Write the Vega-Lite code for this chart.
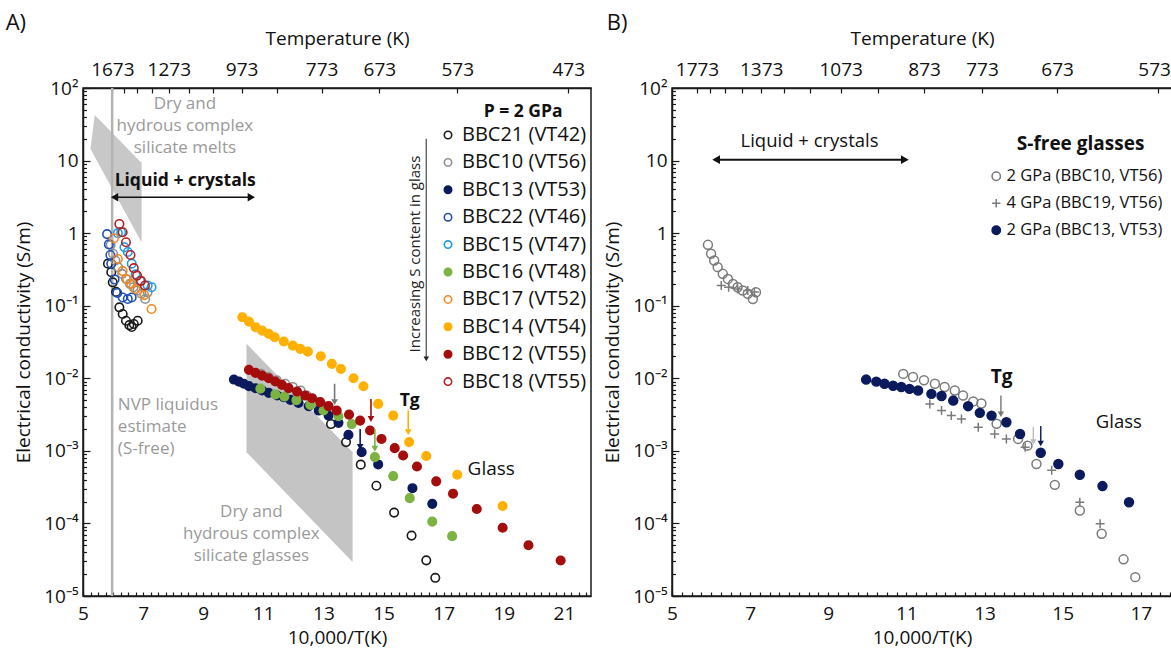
{
  "$schema": "https://vega.github.io/schema/vega-lite/v6.json",
  "background": "white",
  "padding": {"left": 4, "top": 11, "right": 0, "bottom": 0},
  "config": {
    "font": "Open Sans",
    "view": {"stroke": "#1a1a1a", "strokeWidth": 1.5},
    "axis": {
      "grid": false, "labelFont": "Open Sans", "titleFont": "Open Sans",
      "labelFontSize": 19, "titleFontSize": 19, "titleFontWeight": "normal",
      "labelColor": "#111", "titleColor": "#111", "domainColor": "#1a1a1a", "domainWidth": 1.5,
      "tickColor": "#1a1a1a", "tickWidth": 1.2, "labelOverlap": false, "labelFlush": false
    },
    "legend": {"labelFont": "Open Sans", "labelLimit": 320},
    "title": {"font": "Open Sans", "fontWeight": "normal", "fontSize": 22, "anchor": "start", "frame": "bounds", "color": "#111"}
  },
  "datasets": {
    "glassBand": [{"x": 10.44, "lo": 0.00096, "hi": 0.0298}, {"x": 13.97, "lo": 0.0000293, "hi": 0.00096}],
    "meltsBand": [{"x": 5.25, "lo": 14.5, "hi": 14.5}, {"x": 5.39, "lo": 11.3, "hi": 42.5}, {"x": 6.91, "lo": 0.8, "hi": 9.66}, {"x": 6.95, "lo": 0.75, "hi": 9.66}],
    "liquidus": [{"x": 5.97}],
    "grayNotesA": [
      {"x": 8.39, "y": 77.6, "t": "Dry and\nhydrous complex\nsilicate melts"},
      {"x": 10.6, "y": 0.000186, "t": "Dry and\nhydrous complex\nsilicate glasses"}
    ],
    "nvpNote": [{"x": 6.16, "y": 0.00555, "t": "NVP liquidus\nestimate\n(S-free)"}],
    "boldNotesA": [
      {"x": 8.4, "y": 5.3, "t": "Liquid + crystals"},
      {"x": 15.87, "y": 0.0049, "t": "Tg"},
      {"x": 19.64, "y": 46.8, "t": "P = 2 GPa"}
    ],
    "plainNotesA": [{"x": 18.58, "y": 0.00056, "t": "Glass"}],
    "sNote": [{"x": 16.03, "y": 0.516, "t": "Increasing S content in glass"}],
    "sArrow": [{"x": 16.42, "top": 20, "tip": 0.0185}],
    "lcArrowA": [{"x1": 6.05, "x2": 10.6, "y": 3.12}],
    "tgA": [
      {"sample": "BBC10 (VT56)", "x": 13.37, "top": 0.0084, "tip": 0.0047},
      {"sample": "BBC12 (VT55)", "x": 14.58, "top": 0.0052, "tip": 0.00275},
      {"sample": "BBC13 (VT53)", "x": 14.22, "top": 0.002, "tip": 0.00113},
      {"sample": "BBC16 (VT48)", "x": 14.71, "top": 0.002, "tip": 0.00107},
      {"sample": "BBC14 (VT54)", "x": 15.82, "top": 0.0036, "tip": 0.00181}
    ],
    "ptsA": [
      {"sample": "BBC21 (VT42)", "x": 5.83, "y": 0.38}, {"sample": "BBC21 (VT42)", "x": 5.94, "y": 0.29}, {"sample": "BBC21 (VT42)", "x": 5.99, "y": 0.21}, {"sample": "BBC21 (VT42)", "x": 6.1, "y": 0.155}, {"sample": "BBC21 (VT42)", "x": 6.21, "y": 0.095}, {"sample": "BBC21 (VT42)", "x": 6.32, "y": 0.077}, {"sample": "BBC21 (VT42)", "x": 6.43, "y": 0.062}, {"sample": "BBC21 (VT42)", "x": 6.54, "y": 0.054}, {"sample": "BBC21 (VT42)", "x": 6.62, "y": 0.051}, {"sample": "BBC21 (VT42)", "x": 6.69, "y": 0.056}, {"sample": "BBC21 (VT42)", "x": 6.82, "y": 0.062},
      {"sample": "BBC21 (VT42)", "x": 13.25, "y": 0.00234}, {"sample": "BBC21 (VT42)", "x": 13.75, "y": 0.00132}, {"sample": "BBC21 (VT42)", "x": 14.24, "y": 0.000646}, {"sample": "BBC21 (VT42)", "x": 14.76, "y": 0.000331}, {"sample": "BBC21 (VT42)", "x": 15.35, "y": 0.000141}, {"sample": "BBC21 (VT42)", "x": 15.93, "y": 0.000068}, {"sample": "BBC21 (VT42)", "x": 16.42, "y": 0.000031}, {"sample": "BBC21 (VT42)", "x": 16.72, "y": 0.0000178},
      {"sample": "BBC10 (VT56)", "x": 5.92, "y": 0.69}, {"sample": "BBC10 (VT56)", "x": 6.0, "y": 0.52}, {"sample": "BBC10 (VT56)", "x": 6.08, "y": 0.42}, {"sample": "BBC10 (VT56)", "x": 6.17, "y": 0.34}, {"sample": "BBC10 (VT56)", "x": 6.3, "y": 0.275}, {"sample": "BBC10 (VT56)", "x": 6.43, "y": 0.234}, {"sample": "BBC10 (VT56)", "x": 6.56, "y": 0.2}, {"sample": "BBC10 (VT56)", "x": 6.68, "y": 0.18}, {"sample": "BBC10 (VT56)", "x": 6.81, "y": 0.162}, {"sample": "BBC10 (VT56)", "x": 6.94, "y": 0.146}, {"sample": "BBC10 (VT56)", "x": 7.07, "y": 0.124}, {"sample": "BBC10 (VT56)", "x": 7.15, "y": 0.153},
      {"sample": "BBC10 (VT56)", "x": 10.92, "y": 0.0115}, {"sample": "BBC10 (VT56)", "x": 11.17, "y": 0.0104}, {"sample": "BBC10 (VT56)", "x": 11.45, "y": 0.0094}, {"sample": "BBC10 (VT56)", "x": 11.73, "y": 0.0084}, {"sample": "BBC10 (VT56)", "x": 11.98, "y": 0.0076}, {"sample": "BBC10 (VT56)", "x": 12.24, "y": 0.0068}, {"sample": "BBC10 (VT56)", "x": 12.45, "y": 0.0058}, {"sample": "BBC10 (VT56)", "x": 12.71, "y": 0.0048}, {"sample": "BBC10 (VT56)", "x": 12.92, "y": 0.0045},
      {"sample": "BBC22 (VT46)", "x": 5.8, "y": 0.97}, {"sample": "BBC22 (VT46)", "x": 5.86, "y": 0.7}, {"sample": "BBC22 (VT46)", "x": 5.91, "y": 0.5}, {"sample": "BBC22 (VT46)", "x": 5.94, "y": 0.38}, {"sample": "BBC22 (VT46)", "x": 6.05, "y": 0.23}, {"sample": "BBC22 (VT46)", "x": 6.14, "y": 0.15}, {"sample": "BBC22 (VT46)", "x": 6.32, "y": 0.13}, {"sample": "BBC22 (VT46)", "x": 6.49, "y": 0.124}, {"sample": "BBC22 (VT46)", "x": 6.62, "y": 0.13},
      {"sample": "BBC15 (VT47)", "x": 6.16, "y": 1.0}, {"sample": "BBC15 (VT47)", "x": 6.27, "y": 1.03}, {"sample": "BBC15 (VT47)", "x": 6.38, "y": 0.64}, {"sample": "BBC15 (VT47)", "x": 6.49, "y": 0.55}, {"sample": "BBC15 (VT47)", "x": 6.62, "y": 0.38}, {"sample": "BBC15 (VT47)", "x": 6.75, "y": 0.27}, {"sample": "BBC15 (VT47)", "x": 6.9, "y": 0.22}, {"sample": "BBC15 (VT47)", "x": 7.15, "y": 0.19}, {"sample": "BBC15 (VT47)", "x": 7.28, "y": 0.18},
      {"sample": "BBC17 (VT52)", "x": 6.03, "y": 0.85}, {"sample": "BBC17 (VT52)", "x": 6.16, "y": 0.44}, {"sample": "BBC17 (VT52)", "x": 6.32, "y": 0.3}, {"sample": "BBC17 (VT52)", "x": 6.47, "y": 0.23}, {"sample": "BBC17 (VT52)", "x": 6.6, "y": 0.2}, {"sample": "BBC17 (VT52)", "x": 6.75, "y": 0.17}, {"sample": "BBC17 (VT52)", "x": 7.04, "y": 0.14}, {"sample": "BBC17 (VT52)", "x": 7.28, "y": 0.09},
      {"sample": "BBC18 (VT55)", "x": 6.21, "y": 1.34}, {"sample": "BBC18 (VT55)", "x": 6.32, "y": 1.03}, {"sample": "BBC18 (VT55)", "x": 6.43, "y": 0.75}, {"sample": "BBC18 (VT55)", "x": 6.58, "y": 0.5}, {"sample": "BBC18 (VT55)", "x": 6.69, "y": 0.33}, {"sample": "BBC18 (VT55)", "x": 6.8, "y": 0.26}, {"sample": "BBC18 (VT55)", "x": 6.93, "y": 0.22}, {"sample": "BBC18 (VT55)", "x": 7.06, "y": 0.19},
      {"sample": "BBC13 (VT53)", "x": 10.02, "y": 0.0096}, {"sample": "BBC13 (VT53)", "x": 10.19, "y": 0.009}, {"sample": "BBC13 (VT53)", "x": 10.35, "y": 0.0084}, {"sample": "BBC13 (VT53)", "x": 10.52, "y": 0.0078}, {"sample": "BBC13 (VT53)", "x": 10.74, "y": 0.0073}, {"sample": "BBC13 (VT53)", "x": 10.96, "y": 0.0068}, {"sample": "BBC13 (VT53)", "x": 11.18, "y": 0.0063}, {"sample": "BBC13 (VT53)", "x": 11.46, "y": 0.0058}, {"sample": "BBC13 (VT53)", "x": 11.68, "y": 0.0055}, {"sample": "BBC13 (VT53)", "x": 11.9, "y": 0.00504}, {"sample": "BBC13 (VT53)", "x": 12.17, "y": 0.00458}, {"sample": "BBC13 (VT53)", "x": 12.51, "y": 0.00413}, {"sample": "BBC13 (VT53)", "x": 12.84, "y": 0.00359}, {"sample": "BBC13 (VT53)", "x": 13.17, "y": 0.00306}, {"sample": "BBC13 (VT53)", "x": 13.5, "y": 0.00243}, {"sample": "BBC13 (VT53)", "x": 13.83, "y": 0.00166}, {"sample": "BBC13 (VT53)", "x": 14.27, "y": 0.00096}, {"sample": "BBC13 (VT53)", "x": 14.82, "y": 0.00065}, {"sample": "BBC13 (VT53)", "x": 15.96, "y": 0.000306}, {"sample": "BBC13 (VT53)", "x": 16.62, "y": 0.000186},
      {"sample": "BBC16 (VT48)", "x": 10.9, "y": 0.0072}, {"sample": "BBC16 (VT48)", "x": 11.4, "y": 0.006}, {"sample": "BBC16 (VT48)", "x": 11.7, "y": 0.0056}, {"sample": "BBC16 (VT48)", "x": 12.1, "y": 0.005}, {"sample": "BBC16 (VT48)", "x": 12.56, "y": 0.0043}, {"sample": "BBC16 (VT48)", "x": 13.0, "y": 0.0036}, {"sample": "BBC16 (VT48)", "x": 13.5, "y": 0.003}, {"sample": "BBC16 (VT48)", "x": 13.94, "y": 0.00234}, {"sample": "BBC16 (VT48)", "x": 14.71, "y": 0.00082}, {"sample": "BBC16 (VT48)", "x": 15.32, "y": 0.000448}, {"sample": "BBC16 (VT48)", "x": 15.87, "y": 0.000223}, {"sample": "BBC16 (VT48)", "x": 16.62, "y": 0.000106}, {"sample": "BBC16 (VT48)", "x": 17.28, "y": 0.0000668},
      {"sample": "BBC14 (VT54)", "x": 10.3, "y": 0.0695}, {"sample": "BBC14 (VT54)", "x": 10.52, "y": 0.0604}, {"sample": "BBC14 (VT54)", "x": 10.74, "y": 0.0506}, {"sample": "BBC14 (VT54)", "x": 10.96, "y": 0.0454}, {"sample": "BBC14 (VT54)", "x": 11.18, "y": 0.0409}, {"sample": "BBC14 (VT54)", "x": 11.38, "y": 0.0368}, {"sample": "BBC14 (VT54)", "x": 11.68, "y": 0.0321}, {"sample": "BBC14 (VT54)", "x": 11.98, "y": 0.0282}, {"sample": "BBC14 (VT54)", "x": 12.23, "y": 0.0254}, {"sample": "BBC14 (VT54)", "x": 12.48, "y": 0.0233}, {"sample": "BBC14 (VT54)", "x": 12.91, "y": 0.0201}, {"sample": "BBC14 (VT54)", "x": 13.28, "y": 0.0158}, {"sample": "BBC14 (VT54)", "x": 13.58, "y": 0.01346}, {"sample": "BBC14 (VT54)", "x": 14.0, "y": 0.01}, {"sample": "BBC14 (VT54)", "x": 14.33, "y": 0.00778}, {"sample": "BBC14 (VT54)", "x": 14.82, "y": 0.00444}, {"sample": "BBC14 (VT54)", "x": 15.32, "y": 0.00306}, {"sample": "BBC14 (VT54)", "x": 15.85, "y": 0.00132}, {"sample": "BBC14 (VT54)", "x": 16.42, "y": 0.000851}, {"sample": "BBC14 (VT54)", "x": 17.45, "y": 0.000468}, {"sample": "BBC14 (VT54)", "x": 18.96, "y": 0.000174},
      {"sample": "BBC12 (VT55)", "x": 10.52, "y": 0.01306}, {"sample": "BBC12 (VT55)", "x": 10.74, "y": 0.01186}, {"sample": "BBC12 (VT55)", "x": 10.96, "y": 0.01089}, {"sample": "BBC12 (VT55)", "x": 11.18, "y": 0.01}, {"sample": "BBC12 (VT55)", "x": 11.4, "y": 0.00902}, {"sample": "BBC12 (VT55)", "x": 11.62, "y": 0.00811}, {"sample": "BBC12 (VT55)", "x": 11.84, "y": 0.00731}, {"sample": "BBC12 (VT55)", "x": 12.12, "y": 0.00656}, {"sample": "BBC12 (VT55)", "x": 12.39, "y": 0.00578}, {"sample": "BBC12 (VT55)", "x": 12.62, "y": 0.00532}, {"sample": "BBC12 (VT55)", "x": 12.89, "y": 0.00469}, {"sample": "BBC12 (VT55)", "x": 13.17, "y": 0.00413}, {"sample": "BBC12 (VT55)", "x": 13.44, "y": 0.00359}, {"sample": "BBC12 (VT55)", "x": 13.85, "y": 0.00316}, {"sample": "BBC12 (VT55)", "x": 14.22, "y": 0.00261}, {"sample": "BBC12 (VT55)", "x": 14.55, "y": 0.00191}, {"sample": "BBC12 (VT55)", "x": 14.93, "y": 0.00146}, {"sample": "BBC12 (VT55)", "x": 15.37, "y": 0.00109}, {"sample": "BBC12 (VT55)", "x": 15.65, "y": 0.000863}, {"sample": "BBC12 (VT55)", "x": 16.11, "y": 0.000608}, {"sample": "BBC12 (VT55)", "x": 16.75, "y": 0.00038}, {"sample": "BBC12 (VT55)", "x": 17.31, "y": 0.000257}, {"sample": "BBC12 (VT55)", "x": 18.1, "y": 0.000158}, {"sample": "BBC12 (VT55)", "x": 18.96, "y": 0.0000871}, {"sample": "BBC12 (VT55)", "x": 19.82, "y": 0.0000501}, {"sample": "BBC12 (VT55)", "x": 20.89, "y": 0.0000309}
    ],
    "lcArrowB": [{"x1": 6.13, "x2": 10.96, "y": 10.3}],
    "boldNotesB": [
      {"x": 13.44, "y": 0.01035, "t": "Tg"},
      {"x": 15.46, "y": 16.9, "t": "S-free glasses"}
    ],
    "plainNotesB": [
      {"x": 8.52, "y": 18.8, "t": "Liquid + crystals"},
      {"x": 16.44, "y": 0.0025, "t": "Glass"}
    ],
    "tgB": [
      {"sample": "2 GPa (BBC10, VT56)", "x": 13.42, "top": 0.0058, "tip": 0.0032},
      {"sample": "4 GPa (BBC19, VT56)", "x": 14.25, "top": 0.00214, "tip": 0.00133},
      {"sample": "2 GPa (BBC13, VT53)", "x": 14.44, "top": 0.0022, "tip": 0.00126}
    ],
    "ptsB": [
      {"sample": "2 GPa (BBC10, VT56)", "x": 5.92, "y": 0.69}, {"sample": "2 GPa (BBC10, VT56)", "x": 6.0, "y": 0.52}, {"sample": "2 GPa (BBC10, VT56)", "x": 6.08, "y": 0.42}, {"sample": "2 GPa (BBC10, VT56)", "x": 6.17, "y": 0.34}, {"sample": "2 GPa (BBC10, VT56)", "x": 6.3, "y": 0.275}, {"sample": "2 GPa (BBC10, VT56)", "x": 6.43, "y": 0.234}, {"sample": "2 GPa (BBC10, VT56)", "x": 6.56, "y": 0.2}, {"sample": "2 GPa (BBC10, VT56)", "x": 6.68, "y": 0.18}, {"sample": "2 GPa (BBC10, VT56)", "x": 6.81, "y": 0.162}, {"sample": "2 GPa (BBC10, VT56)", "x": 6.94, "y": 0.146}, {"sample": "2 GPa (BBC10, VT56)", "x": 7.07, "y": 0.124}, {"sample": "2 GPa (BBC10, VT56)", "x": 7.15, "y": 0.153},
      {"sample": "2 GPa (BBC10, VT56)", "x": 10.92, "y": 0.0115}, {"sample": "2 GPa (BBC10, VT56)", "x": 11.17, "y": 0.0104}, {"sample": "2 GPa (BBC10, VT56)", "x": 11.45, "y": 0.0094}, {"sample": "2 GPa (BBC10, VT56)", "x": 11.73, "y": 0.0084}, {"sample": "2 GPa (BBC10, VT56)", "x": 11.98, "y": 0.0076}, {"sample": "2 GPa (BBC10, VT56)", "x": 12.24, "y": 0.0068}, {"sample": "2 GPa (BBC10, VT56)", "x": 12.45, "y": 0.0058}, {"sample": "2 GPa (BBC10, VT56)", "x": 12.71, "y": 0.0048}, {"sample": "2 GPa (BBC10, VT56)", "x": 12.92, "y": 0.0045}, {"sample": "2 GPa (BBC10, VT56)", "x": 13.31, "y": 0.00236}, {"sample": "2 GPa (BBC10, VT56)", "x": 13.86, "y": 0.00146}, {"sample": "2 GPa (BBC10, VT56)", "x": 14.1, "y": 0.00118}, {"sample": "2 GPa (BBC10, VT56)", "x": 14.33, "y": 0.00066}, {"sample": "2 GPa (BBC10, VT56)", "x": 14.8, "y": 0.00034}, {"sample": "2 GPa (BBC10, VT56)", "x": 15.44, "y": 0.000151}, {"sample": "2 GPa (BBC10, VT56)", "x": 16.0, "y": 0.000072}, {"sample": "2 GPa (BBC10, VT56)", "x": 16.56, "y": 0.000032}, {"sample": "2 GPa (BBC10, VT56)", "x": 16.86, "y": 0.0000182},
      {"sample": "4 GPa (BBC19, VT56)", "x": 6.26, "y": 0.19}, {"sample": "4 GPa (BBC19, VT56)", "x": 6.45, "y": 0.18}, {"sample": "4 GPa (BBC19, VT56)", "x": 6.68, "y": 0.17}, {"sample": "4 GPa (BBC19, VT56)", "x": 6.94, "y": 0.162}, {"sample": "4 GPa (BBC19, VT56)", "x": 7.11, "y": 0.155},
      {"sample": "4 GPa (BBC19, VT56)", "x": 11.6, "y": 0.00443}, {"sample": "4 GPa (BBC19, VT56)", "x": 11.9, "y": 0.00359}, {"sample": "4 GPa (BBC19, VT56)", "x": 12.15, "y": 0.00306}, {"sample": "4 GPa (BBC19, VT56)", "x": 12.41, "y": 0.00275}, {"sample": "4 GPa (BBC19, VT56)", "x": 12.84, "y": 0.00212}, {"sample": "4 GPa (BBC19, VT56)", "x": 13.26, "y": 0.00171}, {"sample": "4 GPa (BBC19, VT56)", "x": 13.56, "y": 0.00146}, {"sample": "4 GPa (BBC19, VT56)", "x": 14.04, "y": 0.00112}, {"sample": "4 GPa (BBC19, VT56)", "x": 14.72, "y": 0.00054}, {"sample": "4 GPa (BBC19, VT56)", "x": 15.44, "y": 0.000196}, {"sample": "4 GPa (BBC19, VT56)", "x": 15.96, "y": 0.000099},
      {"sample": "2 GPa (BBC13, VT53)", "x": 9.97, "y": 0.0096}, {"sample": "2 GPa (BBC13, VT53)", "x": 10.23, "y": 0.009}, {"sample": "2 GPa (BBC13, VT53)", "x": 10.44, "y": 0.0084}, {"sample": "2 GPa (BBC13, VT53)", "x": 10.66, "y": 0.0079}, {"sample": "2 GPa (BBC13, VT53)", "x": 10.87, "y": 0.0076}, {"sample": "2 GPa (BBC13, VT53)", "x": 11.08, "y": 0.00715}, {"sample": "2 GPa (BBC13, VT53)", "x": 11.3, "y": 0.0068}, {"sample": "2 GPa (BBC13, VT53)", "x": 11.64, "y": 0.0061}, {"sample": "2 GPa (BBC13, VT53)", "x": 11.9, "y": 0.0057}, {"sample": "2 GPa (BBC13, VT53)", "x": 12.2, "y": 0.00493}, {"sample": "2 GPa (BBC13, VT53)", "x": 12.58, "y": 0.00413}, {"sample": "2 GPa (BBC13, VT53)", "x": 12.88, "y": 0.00334}, {"sample": "2 GPa (BBC13, VT53)", "x": 13.18, "y": 0.00306}, {"sample": "2 GPa (BBC13, VT53)", "x": 13.56, "y": 0.00248}, {"sample": "2 GPa (BBC13, VT53)", "x": 13.91, "y": 0.00171}, {"sample": "2 GPa (BBC13, VT53)", "x": 14.44, "y": 0.00094}, {"sample": "2 GPa (BBC13, VT53)", "x": 14.89, "y": 0.00066}, {"sample": "2 GPa (BBC13, VT53)", "x": 15.44, "y": 0.000468}, {"sample": "2 GPa (BBC13, VT53)", "x": 16.02, "y": 0.000327}, {"sample": "2 GPa (BBC13, VT53)", "x": 16.7, "y": 0.000196}
    ]
  },
  "spacing": 81,
  "bounds": "flush",
  "resolve": {
    "scale": {"fill": "independent", "stroke": "independent", "shape": "independent", "color": "independent"},
    "legend": {"fill": "independent", "stroke": "independent", "shape": "independent", "color": "independent"}
  },
  "hconcat": [
    {
      "width": 508,
      "height": 508,
      "title": {"text": "A)", "dx": -9, "offset": -6},
      "resolve": {"axis": {"x": "independent", "y": "independent"}},
      "layer": [
        {
          "data": {"name": "glassBand"},
          "mark": {"type": "area", "color": "#c4c4c4", "opacity": 1},
          "encoding": {
            "x": {"field": "x", "type": "quantitative", "scale": {"domain": [5, 21.9], "nice": false, "zero": false},
              "axis": {"orient": "bottom", "title": "10,000/T(K)", "titlePadding": 5, "tickSize": -4, "labelPadding": 12,
                "values": [5,5.25,5.5,5.75,6,6.25,6.5,6.75,7,7.25,7.5,7.75,8,8.25,8.5,8.75,9,9.25,9.5,9.75,10,10.25,10.5,10.75,11,11.25,11.5,11.75,12,12.25,12.5,12.75,13,13.25,13.5,13.75,14,14.25,14.5,14.75,15,15.25,15.5,15.75,16,16.25,16.5,16.75,17,17.25,17.5,17.75,18,18.25,18.5,18.75,19,19.25,19.5,19.75,20,20.25,20.5,20.75,21,21.25,21.5,21.75],
                "labelExpr": "datum.value % 2 == 1 ? format(datum.value, 'd') : ''"}},
            "y": {"field": "lo", "type": "quantitative", "scale": {"type": "log", "domain": [0.00001, 100], "nice": false},
              "axis": {"orient": "left", "title": "Electrical conductivity (S/m)", "titlePadding": 10, "tickSize": -7, "labelPadding": 12,
                "values": [0.00001, 0.0001, 0.001, 0.01, 0.1, 1, 10, 100],
                "labelExpr": "datum.value >= 99 ? '10²' : datum.value >= 9 ? '10' : datum.value >= 0.9 ? '1' : datum.value >= 0.09 ? '10⁻¹' : datum.value >= 0.009 ? '10⁻²' : datum.value >= 0.0009 ? '10⁻³' : datum.value >= 0.00009 ? '10⁻⁴' : '10⁻⁵'"}},
            "y2": {"field": "hi"}
          }
        },
        {
          "data": {"name": "meltsBand"},
          "mark": {"type": "area", "color": "#c8c8c8", "opacity": 1},
          "encoding": {
            "x": {"field": "x", "type": "quantitative", "scale": {"domain": [5, 21.9], "nice": false, "zero": false},
              "axis": {"orient": "top", "title": "Temperature (K)", "titlePadding": 12, "tickSize": -5, "labelPadding": 14,
                "values": [5.9773, 6.3573, 6.7889, 7.2833, 7.8555, 8.5251, 9.3197, 10.2775, 11.4548, 12.9366, 14.8588, 17.452, 21.1416],
                "labelExpr": "indexof([1673, 1273, 973, 773, 673, 573, 473], round(10000 / datum.value)) >= 0 ? format(round(10000 / datum.value), 'd') : ''"}},
            "y": {"field": "lo", "type": "quantitative", "scale": {"type": "log", "domain": [0.00001, 100], "nice": false},
              "axis": {"orient": "left", "title": null, "labels": false, "domain": false, "tickSize": -3.5,
                "values": [0.00002,0.00003,0.00004,0.00005,0.00006,0.00007,0.00008,0.00009,0.0002,0.0003,0.0004,0.0005,0.0006,0.0007,0.0008,0.0009,0.002,0.003,0.004,0.005,0.006,0.007,0.008,0.009,0.02,0.03,0.04,0.05,0.06,0.07,0.08,0.09,0.2,0.3,0.4,0.5,0.6,0.7,0.8,0.9,2,3,4,5,6,7,8,9,20,30,40,50,60,70,80,90]}},
            "y2": {"field": "hi"}
          }
        },
        {
          "data": {"name": "liquidus"},
          "mark": {"type": "rule", "color": "#b3b3b3", "strokeWidth": 2.5},
          "encoding": {"x": {"field": "x", "type": "quantitative", "axis": null}}
        },
        {
          "data": {"name": "grayNotesA"},
          "mark": {"type": "text", "align": "center", "baseline": "top", "fontSize": 17, "color": "#9a9a9a", "lineBreak": "\n", "lineHeight": 22},
          "encoding": {
            "x": {"field": "x", "type": "quantitative", "axis": null},
            "y": {"field": "y", "type": "quantitative", "axis": null},
            "text": {"field": "t"}
          }
        },
        {
          "data": {"name": "nvpNote"},
          "mark": {"type": "text", "align": "left", "baseline": "top", "fontSize": 17, "color": "#9a9a9a", "lineBreak": "\n", "lineHeight": 22},
          "encoding": {
            "x": {"field": "x", "type": "quantitative", "axis": null},
            "y": {"field": "y", "type": "quantitative", "axis": null},
            "text": {"field": "t"}
          }
        },
        {
          "data": {"name": "ptsA"},
          "mark": {"type": "point", "size": 72, "strokeWidth": 1.6, "opacity": 1},
          "encoding": {
            "x": {"field": "x", "type": "quantitative", "axis": null},
            "y": {"field": "y", "type": "quantitative", "axis": null},
            "fill": {"field": "sample", "type": "nominal",
              "scale": {"domain": ["BBC21 (VT42)", "BBC10 (VT56)", "BBC13 (VT53)", "BBC22 (VT46)", "BBC15 (VT47)", "BBC16 (VT48)", "BBC17 (VT52)", "BBC14 (VT54)", "BBC12 (VT55)", "BBC18 (VT55)"],
                "range": ["transparent", "transparent", "#0b1a5c", "transparent", "transparent", "#7cb342", "transparent", "#ffb000", "#a50d0d", "transparent"]},
              "legend": {"title": null, "orient": "none", "legendX": 355, "legendY": 37, "symbolSize": 55, "symbolStrokeWidth": 1.6, "labelFontSize": 20, "labelColor": "#111", "rowPadding": 7.4, "labelOffset": 4, "padding": 0}},
            "stroke": {"field": "sample", "type": "nominal",
              "scale": {"domain": ["BBC21 (VT42)", "BBC10 (VT56)", "BBC13 (VT53)", "BBC22 (VT46)", "BBC15 (VT47)", "BBC16 (VT48)", "BBC17 (VT52)", "BBC14 (VT54)", "BBC12 (VT55)", "BBC18 (VT55)"],
                "range": ["#1a1a1a", "#8f8f8f", "#0b1a5c", "#1f50b5", "#1e9be8", "#7cb342", "#f28a22", "#ffb000", "#a50d0d", "#b52222"]},
              "legend": {"title": null, "orient": "none", "legendX": 355, "legendY": 37, "symbolSize": 55, "symbolStrokeWidth": 1.6, "labelFontSize": 20, "labelColor": "#111", "rowPadding": 7.4, "labelOffset": 4, "padding": 0}}
          }
        },
        {
          "data": {"name": "lcArrowA"},
          "mark": {"type": "rule", "color": "#111", "strokeWidth": 1.5},
          "encoding": {
            "x": {"field": "x1", "type": "quantitative", "axis": null},
            "x2": {"field": "x2"},
            "y": {"field": "y", "type": "quantitative", "axis": null}
          }
        },
        {
          "data": {"name": "lcArrowA"},
          "mark": {"type": "point", "shape": "triangle-left", "filled": true, "color": "#111", "size": 70, "opacity": 1},
          "encoding": {
            "x": {"field": "x1", "type": "quantitative", "axis": null},
            "y": {"field": "y", "type": "quantitative", "axis": null}
          }
        },
        {
          "data": {"name": "lcArrowA"},
          "mark": {"type": "point", "shape": "triangle-right", "filled": true, "color": "#111", "size": 70, "opacity": 1},
          "encoding": {
            "x": {"field": "x2", "type": "quantitative", "axis": null},
            "y": {"field": "y", "type": "quantitative", "axis": null}
          }
        },
        {
          "data": {"name": "sArrow"},
          "mark": {"type": "rule", "color": "#555", "strokeWidth": 1.3},
          "encoding": {
            "x": {"field": "x", "type": "quantitative", "axis": null},
            "y": {"field": "top", "type": "quantitative", "axis": null},
            "y2": {"field": "tip"}
          }
        },
        {
          "data": {"name": "sArrow"},
          "mark": {"type": "point", "shape": "triangle-down", "filled": true, "color": "#222", "size": 30, "opacity": 1},
          "encoding": {
            "x": {"field": "x", "type": "quantitative", "axis": null},
            "y": {"field": "tip", "type": "quantitative", "axis": null}
          }
        },
        {
          "data": {"name": "tgA"},
          "mark": {"type": "rule", "strokeWidth": 1.6},
          "encoding": {
            "x": {"field": "x", "type": "quantitative", "axis": null},
            "y": {"field": "top", "type": "quantitative", "axis": null},
            "y2": {"field": "tip"},
            "color": {"field": "sample", "type": "nominal", "legend": null,
              "scale": {"domain": ["BBC10 (VT56)", "BBC12 (VT55)", "BBC13 (VT53)", "BBC16 (VT48)", "BBC14 (VT54)"], "range": ["#777777", "#a50d0d", "#0b1a5c", "#7cb342", "#ffb000"]}}
          }
        },
        {
          "data": {"name": "tgA"},
          "mark": {"type": "point", "shape": "triangle-down", "filled": true, "size": 45, "opacity": 1},
          "encoding": {
            "x": {"field": "x", "type": "quantitative", "axis": null},
            "y": {"field": "tip", "type": "quantitative", "axis": null},
            "color": {"field": "sample", "type": "nominal", "legend": null,
              "scale": {"domain": ["BBC10 (VT56)", "BBC12 (VT55)", "BBC13 (VT53)", "BBC16 (VT48)", "BBC14 (VT54)"], "range": ["#777777", "#a50d0d", "#0b1a5c", "#7cb342", "#ffb000"]}}
          }
        },
        {
          "data": {"name": "boldNotesA"},
          "mark": {"type": "text", "align": "center", "baseline": "middle", "fontSize": 17.5, "fontWeight": "bold", "color": "#111"},
          "encoding": {
            "x": {"field": "x", "type": "quantitative", "axis": null},
            "y": {"field": "y", "type": "quantitative", "axis": null},
            "text": {"field": "t"}
          }
        },
        {
          "data": {"name": "plainNotesA"},
          "mark": {"type": "text", "align": "center", "baseline": "middle", "fontSize": 19, "color": "#111"},
          "encoding": {
            "x": {"field": "x", "type": "quantitative", "axis": null},
            "y": {"field": "y", "type": "quantitative", "axis": null},
            "text": {"field": "t"}
          }
        },
        {
          "data": {"name": "sNote"},
          "mark": {"type": "text", "align": "center", "baseline": "middle", "angle": 270, "fontSize": 15, "color": "#222"},
          "encoding": {
            "x": {"field": "x", "type": "quantitative", "axis": null},
            "y": {"field": "y", "type": "quantitative", "axis": null},
            "text": {"field": "t"}
          }
        }
      ]
    },
    {
      "width": 500,
      "height": 508,
      "title": {"text": "B)", "dx": 3, "offset": -6},
      "resolve": {"axis": {"x": "independent", "y": "independent"}},
      "layer": [
        {
          "data": {"name": "ptsB"},
          "mark": {"type": "point", "size": 80, "strokeWidth": 1.5, "opacity": 1},
          "encoding": {
            "x": {"field": "x", "type": "quantitative", "scale": {"domain": [5, 17.8], "nice": false, "zero": false},
              "axis": {"orient": "bottom", "title": "10,000/T(K)", "titlePadding": 5, "tickSize": -4, "labelPadding": 12,
                "values": [5,5.25,5.5,5.75,6,6.25,6.5,6.75,7,7.25,7.5,7.75,8,8.25,8.5,8.75,9,9.25,9.5,9.75,10,10.25,10.5,10.75,11,11.25,11.5,11.75,12,12.25,12.5,12.75,13,13.25,13.5,13.75,14,14.25,14.5,14.75,15,15.25,15.5,15.75,16,16.25,16.5,16.75,17,17.25,17.5,17.75],
                "labelExpr": "datum.value % 2 == 1 ? format(datum.value, 'd') : ''"}},
            "y": {"field": "y", "type": "quantitative", "scale": {"type": "log", "domain": [0.00001, 100], "nice": false},
              "axis": {"orient": "left", "title": "Electrical conductivity (S/m)", "titlePadding": 10, "tickSize": -7, "labelPadding": 12,
                "values": [0.00001, 0.0001, 0.001, 0.01, 0.1, 1, 10, 100],
                "labelExpr": "datum.value >= 99 ? '10²' : datum.value >= 9 ? '10' : datum.value >= 0.9 ? '1' : datum.value >= 0.09 ? '10⁻¹' : datum.value >= 0.009 ? '10⁻²' : datum.value >= 0.0009 ? '10⁻³' : datum.value >= 0.00009 ? '10⁻⁴' : '10⁻⁵'"}},
            "fill": {"field": "sample", "type": "nominal",
              "scale": {"domain": ["2 GPa (BBC10, VT56)", "4 GPa (BBC19, VT56)", "2 GPa (BBC13, VT53)"], "range": ["transparent", "transparent", "#0b1a5c"]},
              "legend": {"title": null, "orient": "none", "legendX": 316, "legendY": 80, "symbolSize": 70, "symbolStrokeWidth": 1.5, "labelFontSize": 16.5, "labelColor": "#111", "rowPadding": 10, "labelOffset": 2, "padding": 0}},
            "stroke": {"field": "sample", "type": "nominal",
              "scale": {"domain": ["2 GPa (BBC10, VT56)", "4 GPa (BBC19, VT56)", "2 GPa (BBC13, VT53)"], "range": ["#7a7a7a", "#7a7a7a", "#0b1a5c"]},
              "legend": {"title": null, "orient": "none", "legendX": 316, "legendY": 80, "symbolSize": 70, "symbolStrokeWidth": 1.5, "labelFontSize": 16.5, "labelColor": "#111", "rowPadding": 10, "labelOffset": 2, "padding": 0}},
            "shape": {"field": "sample", "type": "nominal",
              "scale": {"domain": ["2 GPa (BBC10, VT56)", "4 GPa (BBC19, VT56)", "2 GPa (BBC13, VT53)"], "range": ["circle", "M-1,0H1M0,-1V1", "circle"]},
              "legend": {"title": null, "orient": "none", "legendX": 316, "legendY": 80, "symbolSize": 70, "symbolStrokeWidth": 1.5, "labelFontSize": 16.5, "labelColor": "#111", "rowPadding": 10, "labelOffset": 2, "padding": 0}}
          }
        },
        {
          "data": {"name": "lcArrowB"},
          "mark": {"type": "rule", "color": "#111", "strokeWidth": 2},
          "encoding": {
            "x": {"field": "x1", "type": "quantitative", "scale": {"domain": [5, 17.8], "nice": false, "zero": false},
              "axis": {"orient": "top", "title": "Temperature (K)", "titlePadding": 12, "tickSize": -5, "labelPadding": 14,
                "labelFlush": 20, "labelFlushOffset": 12,
                "values": [5.6402, 5.9773, 6.3573, 6.7889, 7.2833, 7.8555, 8.5251, 9.3197, 10.2775, 11.4548, 12.9366, 14.8588, 17.452],
                "labelExpr": "indexof([1773, 1373, 1073, 873, 773, 673, 573], round(10000 / datum.value)) >= 0 ? format(round(10000 / datum.value), 'd') : ''"}},
            "x2": {"field": "x2"},
            "y": {"field": "y", "type": "quantitative", "scale": {"type": "log", "domain": [0.00001, 100], "nice": false},
              "axis": {"orient": "left", "title": null, "labels": false, "domain": false, "tickSize": -3.5,
                "values": [0.00002,0.00003,0.00004,0.00005,0.00006,0.00007,0.00008,0.00009,0.0002,0.0003,0.0004,0.0005,0.0006,0.0007,0.0008,0.0009,0.002,0.003,0.004,0.005,0.006,0.007,0.008,0.009,0.02,0.03,0.04,0.05,0.06,0.07,0.08,0.09,0.2,0.3,0.4,0.5,0.6,0.7,0.8,0.9,2,3,4,5,6,7,8,9,20,30,40,50,60,70,80,90]}}
          }
        },
        {
          "data": {"name": "lcArrowB"},
          "mark": {"type": "point", "shape": "triangle-left", "filled": true, "color": "#111", "size": 80, "opacity": 1},
          "encoding": {
            "x": {"field": "x1", "type": "quantitative", "axis": null},
            "y": {"field": "y", "type": "quantitative", "axis": null}
          }
        },
        {
          "data": {"name": "lcArrowB"},
          "mark": {"type": "point", "shape": "triangle-right", "filled": true, "color": "#111", "size": 80, "opacity": 1},
          "encoding": {
            "x": {"field": "x2", "type": "quantitative", "axis": null},
            "y": {"field": "y", "type": "quantitative", "axis": null}
          }
        },
        {
          "data": {"name": "tgB"},
          "mark": {"type": "rule", "strokeWidth": 1.4},
          "encoding": {
            "x": {"field": "x", "type": "quantitative", "axis": null},
            "y": {"field": "top", "type": "quantitative", "axis": null},
            "y2": {"field": "tip"},
            "color": {"field": "sample", "type": "nominal", "legend": null,
              "scale": {"domain": ["2 GPa (BBC10, VT56)", "4 GPa (BBC19, VT56)", "2 GPa (BBC13, VT53)"], "range": ["#777777", "#bbbbbb", "#0b1a5c"]}}
          }
        },
        {
          "data": {"name": "tgB"},
          "mark": {"type": "point", "shape": "triangle-down", "filled": true, "size": 40, "opacity": 1},
          "encoding": {
            "x": {"field": "x", "type": "quantitative", "axis": null},
            "y": {"field": "tip", "type": "quantitative", "axis": null},
            "color": {"field": "sample", "type": "nominal", "legend": null,
              "scale": {"domain": ["2 GPa (BBC10, VT56)", "4 GPa (BBC19, VT56)", "2 GPa (BBC13, VT53)"], "range": ["#777777", "#bbbbbb", "#0b1a5c"]}}
          }
        },
        {
          "data": {"name": "boldNotesB"},
          "mark": {"type": "text", "align": "center", "baseline": "middle", "fontSize": 19, "fontWeight": "bold", "color": "#111"},
          "encoding": {
            "x": {"field": "x", "type": "quantitative", "axis": null},
            "y": {"field": "y", "type": "quantitative", "axis": null},
            "text": {"field": "t"}
          }
        },
        {
          "data": {"name": "plainNotesB"},
          "mark": {"type": "text", "align": "center", "baseline": "middle", "fontSize": 18.5, "color": "#111"},
          "encoding": {
            "x": {"field": "x", "type": "quantitative", "axis": null},
            "y": {"field": "y", "type": "quantitative", "axis": null},
            "text": {"field": "t"}
          }
        }
      ]
    }
  ]
}
